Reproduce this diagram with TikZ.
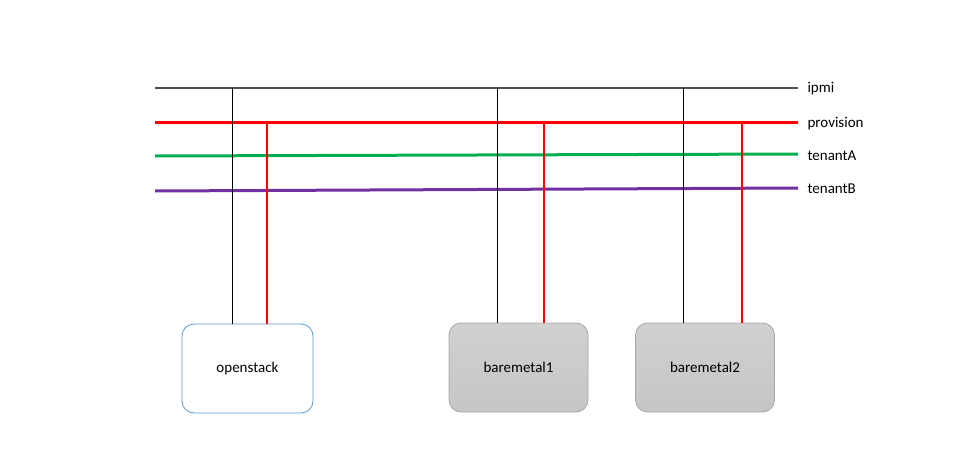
\documentclass[tikz,border=0pt]{standalone}
\usepackage{fontspec}
\setmainfont{Carlito}
\definecolor{ipmigray}{RGB}{80,80,80}
\definecolor{provred}{RGB}{255,0,0}
\definecolor{tagreen}{RGB}{0,176,80}
\definecolor{tbpurple}{RGB}{112,48,160}
\definecolor{osblue}{RGB}{91,155,213}
\definecolor{bmedge}{RGB}{166,166,166}
\tikzset{server/.style={
		rectangle,
		rounded corners=12pt,
		minimum width=131pt,
		minimum height=89pt,
		draw=osblue,
		line width=0.8pt,
		fill=white,
		font=\fontsize{15}{18}\selectfont},
	baremetal/.style={
		server,
		minimum width=139pt,
		draw=bmedge,
		top color={rgb,255:red,208;green,208;blue,208},
		bottom color={rgb,255:red,198;green,198;blue,198}},
	netlabel/.style={anchor=west,font=\fontsize{15}{18}\selectfont},
	bus/.style={line width=3pt},
	tap/.style={line width=1pt}
	}

\begin{document}
\begin{tikzpicture}[x=1pt,y=-1pt]
			\useasboundingbox (0,0) rectangle (956,463);
			% network buses
			\coordinate (ipmiL) at (155,88);
			\coordinate (ipmiR) at (798,88);
			\coordinate (provL) at (155,122);
			\coordinate (provR) at (798,122);
			\coordinate (taL) at (155,156);
			\coordinate (taR) at (798,154);
			\coordinate (tbL) at (155,191);
			\coordinate (tbR) at (798,188);
			\draw[ipmigray,line width=1.8pt] (ipmiL) -- (ipmiR);
			\draw[bus,provred] (provL) -- (provR);
			\draw[bus,tagreen] (taL) -- (taR);
			\draw[bus,tbpurple] (tbL) -- (tbR);
			\node [netlabel] (ipmi) at (804,89) {ipmi};
			\node [netlabel] (provision) at (804,124) {provision};
			\node [netlabel] (tenantA) at (804,156) {tenantA};
			\node [netlabel] (tenantB) at (804,189) {tenantB};
			% hosts
			\node [server] (openstack) at (247.5,368.5) {openstack};
			\node [baremetal] (baremetal1) at (518.5,367.5) {baremetal1};
			\node [baremetal] (baremetal2) at (705,367.5) {baremetal2};
			% taps
			\coordinate (os-ipmi) at (232,88);
			\coordinate (os-prov) at (267,122);
			\coordinate (bm1-ipmi) at (497,88);
			\coordinate (bm1-prov) at (544,122);
			\coordinate (bm2-ipmi) at (683,88);
			\coordinate (bm2-prov) at (742,122);
			\draw[tap,black] (os-ipmi) -- (os-ipmi |- openstack.north);
			\draw[tap,provred,line width=2pt] (os-prov) -- (os-prov |- openstack.north);
			\draw[tap,black] (bm1-ipmi) -- (bm1-ipmi |- baremetal1.north);
			\draw[tap,provred,line width=2pt] (bm1-prov) -- (bm1-prov |- baremetal1.north);
			\draw[tap,black] (bm2-ipmi) -- (bm2-ipmi |- baremetal2.north);
			\draw[tap,provred,line width=2pt] (bm2-prov) -- (bm2-prov |- baremetal2.north);
		\end{tikzpicture}
\end{document}
